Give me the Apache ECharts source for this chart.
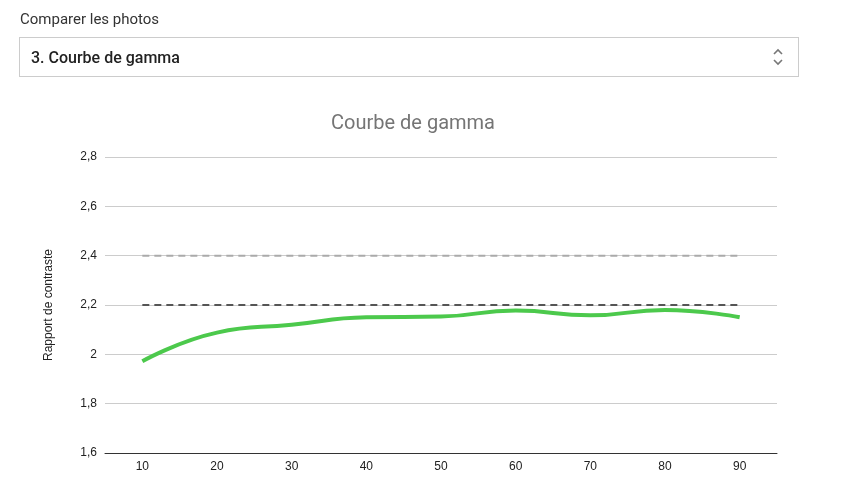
<!DOCTYPE html><html><head><meta charset="utf-8">
<script src="https://cdn.jsdelivr.net/npm/echarts@6/dist/echarts.min.js"></script>
<style>
body{margin:0;width:847px;height:485px;position:relative;font-family:Roboto,sans-serif;background:#fff;overflow:hidden}
#c{position:absolute;left:0;top:0;width:847px;height:485px}
#lbl{position:absolute;left:20px;top:10px;font-size:15px;color:#333}
#sel{position:absolute;left:19px;top:37px;width:780px;height:40px;border:1px solid #ccc;box-sizing:border-box;font-size:16px;font-weight:500;color:#222;line-height:39px;padding-left:11px}
#arr{position:absolute;right:14px;top:9px;width:12px;height:20px}
</style></head><body>
<div id="c"></div>
<div id="lbl">Comparer les photos</div>
<div id="sel">3. Courbe de gamma<svg id="arr" viewBox="0 0 12 20"><path d="M2 7 L6 3 L10 7 M2 13 L6 17 L10 13" fill="none" stroke="#777" stroke-width="1.6"/></svg></div>
<script>
const categories=['10','20','30','40','50','60','70','80','90'];
const gamma=[1.972,2.088,2.12,2.15,2.153,2.178,2.158,2.18,2.15];
const ref24=[2.4,2.4,2.4,2.4,2.4,2.4,2.4,2.4,2.4];
const ref22=[2.2,2.2,2.2,2.2,2.2,2.2,2.2,2.2,2.2];
const ch=echarts.init(document.getElementById('c'));
ch.setOption({
 animation:false,
 title:{text:'Courbe de gamma',left:408,textAlign:'center',top:109,textStyle:{fontSize:20,fontWeight:'normal',color:'#757575',fontFamily:'Roboto'}},
 grid:{left:105,right:70,top:157,bottom:32},
 xAxis:{type:'category',data:categories,axisLine:{show:true,lineStyle:{color:'#333'}},axisTick:{show:false},axisLabel:{color:'#222',fontSize:12,fontFamily:'Arial'}},
 yAxis:{type:'value',min:1.6,max:2.8,interval:0.2,name:'Rapport de contraste',nameLocation:'middle',nameGap:50,nameTextStyle:{fontSize:12,color:'#222',fontFamily:'Arial'},
  axisLabel:{color:'#222',fontSize:12,fontFamily:'Arial',formatter:v=>String(+v.toFixed(1)).replace('.',',')},
  splitLine:{lineStyle:{color:'#ccc'}}},
 series:[
  {type:'line',data:ref24,symbol:'none',lineStyle:{color:'#aaa',width:2,type:[7,5]}},
  {type:'line',data:ref22,symbol:'none',lineStyle:{color:'#555',width:2,type:[7,5]}},
  {type:'line',data:gamma,symbol:'none',smooth:true,lineStyle:{color:'#4cc94c',width:4}}
 ]
});
</script></body></html>
